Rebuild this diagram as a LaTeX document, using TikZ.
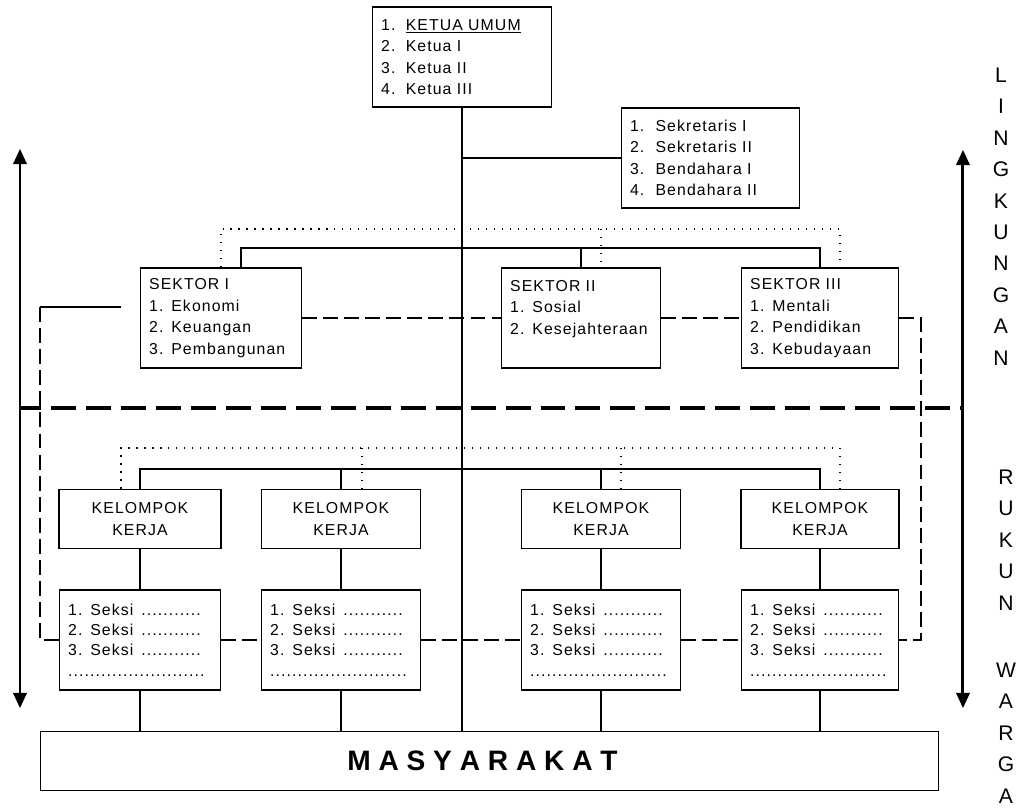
\documentclass[tikz,border=0pt]{standalone}
\usepackage{fontspec}
\setmainfont{Liberation Sans}
\newfontfamily\orgfont[LetterSpace=7]{Liberation Sans}
\usepackage{tikz}

\begin{document}
\begin{tikzpicture}[scale=0.2,
  listbox/.style={draw, line width=0.6pt, inner xsep=4.8pt, minimum height=56.9pt, align=left, text width=#1, font=\orgfont\fontsize{9}{12.2}\selectfont},
  kkbox/.style={draw, line width=0.6pt, minimum height=34.1pt, minimum width=#1, align=center, font=\orgfont\fontsize{9}{12.4}\selectfont},
  link/.style={line width=0.6pt},
  linkdash/.style={line width=0.6pt, dash pattern=on 8.5pt off 3.5pt},
  linkdot/.style={line width=0.6pt, dash pattern=on 0.6pt off 3.95pt},
  border/.style={line width=2.8pt, dash pattern=on 14.2pt off 5.7pt, dash phase=2.3pt},
  bigarrow/.style={line width=1.7pt, shorten <=5pt, shorten >=5pt}]
\useasboundingbox (0,0) rectangle (102.7,-80.9);
\node [listbox=92pt] (ketua) at (46.2,-5.7) {\makebox[14pt][l]{1.}\underline{KETUA UMUM}\\\makebox[14pt][l]{2.}Ketua I\\\makebox[14pt][l]{3.}Ketua II\\\makebox[14pt][l]{4.}Ketua III};
\node [listbox=91.5pt] (sekr) at (71.05,-15.8) {\makebox[14.5pt][l]{1.}Sekretaris I\\\makebox[14.5pt][l]{2.}Sekretaris II\\\makebox[14.5pt][l]{3.}Bendahara I\\\makebox[14.5pt][l]{4.}Bendahara II};
\node [listbox=81.8pt] (s1) at (22.1,-31.8) {SEKTOR I\\1. Ekonomi\\2. Keuangan\\3. Pembangunan};
\node [listbox=80.6pt] (s2) at (58.1,-31.8) {SEKTOR II\\1. Sosial\\2. Kesejahteraan\\\mbox{}};
\node [listbox=79.5pt] (s3) at (82.0,-31.8) {SEKTOR III\\1. Mentali\\2. Pendidikan\\3. Kebudayaan};
\node [kkbox=92.2pt] (k1) at (14.0,-51.9) {KELOMPOK\\KERJA};
\node [kkbox=91pt] (k2) at (34.1,-51.9) {KELOMPOK\\KERJA};
\node [kkbox=91pt] (k3) at (60.1,-51.9) {KELOMPOK\\KERJA};
\node [kkbox=89.9pt] (k4) at (82.0,-51.9) {KELOMPOK\\KERJA};
\node [listbox=81.8pt, font=\orgfont\fontsize{9}{11.6}\selectfont] (q1) at (14.0,-64.0) {1. Seksi \,...........\\2. Seksi \,...........\\3. Seksi \,...........\\.........................};
\node [listbox=80.6pt, font=\orgfont\fontsize{9}{11.6}\selectfont] (q2) at (34.1,-64.0) {1. Seksi \,...........\\2. Seksi \,...........\\3. Seksi \,...........\\.........................};
\node [listbox=80.6pt, font=\orgfont\fontsize{9}{11.6}\selectfont] (q3) at (60.1,-64.0) {1. Seksi \,...........\\2. Seksi \,...........\\3. Seksi \,...........\\.........................};
\node [listbox=79.5pt, font=\orgfont\fontsize{9}{11.6}\selectfont] (q4) at (82.0,-64.0) {1. Seksi \,...........\\2. Seksi \,...........\\3. Seksi \,...........\\.........................};
\node [draw, line width=0.6pt, minimum width=511.5pt, minimum height=34.1pt, font=\bfseries\fontsize{16}{16}\selectfont] (masy) at (48.95,-76.1) {M A S Y A R A K A T\hspace*{8pt}};
\node [align=center, font=\fontsize{12}{17.9}\selectfont] (lingkungan) at (100.1,-21.65) {L\\I\\N\\G\\K\\U\\N\\G\\A\\N};
\node [align=center, font=\fontsize{12}{17.9}\selectfont] (rukunwarga) at (100.6,-63.65) {R\\U\\K\\U\\N\\[20.2pt]W\\A\\R\\G\\A};
\draw [link] (ketua.south) -- (ketua.south |- masy.north);
\draw [link] (sekr.west -| ketua.south) -- (sekr.west);
\coordinate (sbus) at (24.1,-24.8);
\draw [link] (sbus |- s1.north) -- (sbus) -| (s3.north);
\draw [link] (s2.north) -- (s2.north |- sbus);
\coordinate (sdot2) at (60.1,-22.9);
\coordinate (sdot3) at (84.0,-22.9);
\draw [linkdot] (s1.north) |- (sdot3) -- (sdot3 |- s3.north);
\draw [linkdot] (sdot2) -- (sdot2 |- s2.north);
\draw [linkdash] (s1.east) -- (s2.west);
\draw [linkdash] (s2.east) -- (s3.west);
\coordinate (lcorner) at (4.0,-30.7);
\coordinate (lend) at (12.1,-30.7);
\draw [link] (lcorner) -- (lend);
\draw [linkdash] (lcorner) |- (q1.west);
\coordinate (rcorner) at (92.1,-31.8);
\draw [linkdash] (s3.east) -- (rcorner) |- (q4.east);
\coordinate (kbus) at (0,-46.9);
\draw [link] (k1.north) |- (kbus -| k4.north) -- (k4.north);
\draw [link] (k2.north) -- (k2.north |- kbus);
\draw [link] (k3.north) -- (k3.north |- kbus);
\coordinate (kdot1) at (12.1,-44.8);
\coordinate (kdot2) at (36.2,-44.8);
\coordinate (kdot3) at (62.1,-44.8);
\coordinate (kdot4) at (84.0,-44.8);
\draw [linkdot] (kdot1 |- k1.north) -- (kdot1) -- (kdot4) -- (kdot4 |- k4.north);
\draw [linkdot] (kdot2) -- (kdot2 |- k2.north);
\draw [linkdot] (kdot3) -- (kdot3 |- k3.north);
\draw [link] (k1.south) -- (q1.north);
\draw [link] (k2.south) -- (q2.north);
\draw [link] (k3.south) -- (q3.north);
\draw [link] (k4.south) -- (q4.north);
\draw [link] (q1.south) -- (q1.south |- masy.north);
\draw [link] (q2.south) -- (q2.south |- masy.north);
\draw [link] (q3.south) -- (q3.south |- masy.north);
\draw [link] (q4.south) -- (q4.south |- masy.north);
\draw [linkdash] (q1.east) -- (q2.west);
\draw [linkdash] (q2.east) -- (q3.west);
\draw [linkdash] (q3.east) -- (q4.west);
\coordinate (ltop) at (2.0,-14.9);
\coordinate (lbot) at (2.0,-70.8);
\coordinate (rtop) at (96.3,-15.0);
\coordinate (rbot) at (96.3,-70.8);
\draw [border] (ltop |- 0,-40.8) -- (rtop |- 0,-40.8);
\draw [bigarrow] (ltop) -- (lbot);
\fill (ltop) -- ++(-0.7,-1.5) -- ++(1.4,0) -- cycle;
\fill (lbot) -- ++(-0.7,1.5) -- ++(1.4,0) -- cycle;
\draw [bigarrow] (rtop) -- (rbot);
\fill (rtop) -- ++(-0.7,-1.5) -- ++(1.4,0) -- cycle;
\fill (rbot) -- ++(-0.7,1.5) -- ++(1.4,0) -- cycle;
\end{tikzpicture}
\end{document}
